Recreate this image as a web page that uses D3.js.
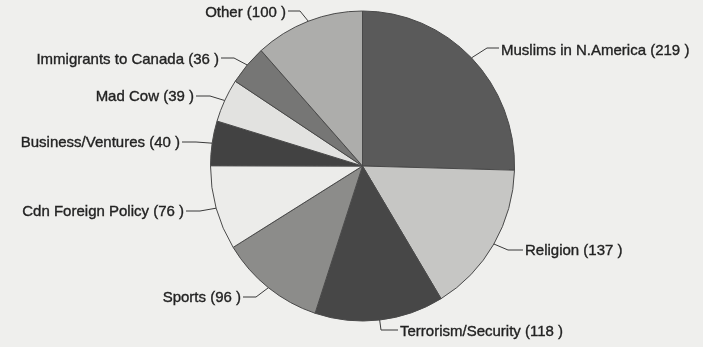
<!DOCTYPE html>
<html>
<head>
<meta charset="utf-8">
<script src="https://cdn.jsdelivr.net/npm/d3@7"></script>
<style>
  html, body { margin: 0; padding: 0; background: #efefed; }
  svg { display: block; }
  text { font-family: "Liberation Sans", Arial, sans-serif; }
</style>
</head>
<body>
<svg id="chart" width="703" height="347"></svg>
<script>
// Story topics and their counts, clockwise from 12 o'clock
const topics = [
  "Muslims in N.America", "Religion", "Terrorism/Security", "Sports",
  "Cdn Foreign Policy", "Business/Ventures", "Mad Cow",
  "Immigrants to Canada", "Other"
];
const counts = [219, 137, 118, 96, 76, 40, 39, 36, 100];

// Grey shades for each slice
const shades = [
  "#5a5a5a", "#c6c6c4", "#464646", "#8c8c8a",
  "#ececea", "#434343", "#e2e2e0", "#767674", "#adadab"
];

// Label placement: text anchor point, side, and leader elbow
const labelPos = [
  { x: 501, y: 51, anchor: "start", lead: [[499, 48], [487, 48]] },
  { x: 525, y: 251, anchor: "start", lead: [[523, 250], [508, 250]] },
  { x: 400, y: 332, anchor: "start", lead: [[398, 330], [381, 330]] },
  { x: 241, y: 298, anchor: "end", lead: [[243, 297], [256, 297]] },
  { x: 184, y: 212, anchor: "end", lead: [[186, 211], [200, 211]] },
  { x: 180, y: 143, anchor: "end", lead: [[182, 142], [196, 142]] },
  { x: 194, y: 97, anchor: "end", lead: [[196, 96], [210, 96]] },
  { x: 219, y: 60, anchor: "end", lead: [[221, 58], [234, 58]] },
  { x: 286, y: 13, anchor: "end", lead: [[288, 11], [300, 11]] }
];

const cx = 362.5, cy = 166, rx = 152, ry = 155;

const svg = d3.select("#chart");

const defs = svg.append("defs");
defs.append("filter").attr("id", "soft")
  .append("feGaussianBlur").attr("stdDeviation", 0.55);

const root = svg.append("g").attr("filter", "url(#soft)");

const pie = d3.pie().sort(null).value(d => d)(counts);
const arc = d3.arc().innerRadius(0).outerRadius(1);

// Slices: unit arcs stretched to the slightly oval outline
root.append("g")
  .attr("transform", `translate(${cx},${cy}) scale(${rx},${ry})`)
  .selectAll("path")
  .data(pie)
  .join("path")
  .attr("d", arc)
  .attr("fill", (d, i) => shades[i])
  .attr("stroke", "#4a4a4a")
  .attr("stroke-width", 1)
  .attr("vector-effect", "non-scaling-stroke");

// Point on the rim at the middle of each slice
function rimPoint(d) {
  const a = (d.startAngle + d.endAngle) / 2;
  return [cx + rx * Math.sin(a), cy - ry * Math.cos(a)];
}

// Leader lines
root.append("g")
  .selectAll("polyline")
  .data(pie)
  .join("polyline")
  .attr("points", (d, i) => labelPos[i].lead.concat([rimPoint(d)]).map(p => p.join(",")).join(" "))
  .attr("fill", "none")
  .attr("stroke", "#3a3a3a")
  .attr("stroke-width", 1);

// Labels
root.append("g")
  .selectAll("text")
  .data(pie)
  .join("text")
  .attr("x", (d, i) => labelPos[i].x)
  .attr("y", (d, i) => labelPos[i].y)
  .attr("text-anchor", (d, i) => labelPos[i].anchor)
  .attr("dominant-baseline", "middle")
  .attr("font-size", 15)
  .attr("fill", "#222")
  .attr("stroke", "#222")
  .attr("stroke-width", 0.35)
  .text((d, i) => `${topics[i]} (${counts[i]} )`);
</script>
</body>
</html>
